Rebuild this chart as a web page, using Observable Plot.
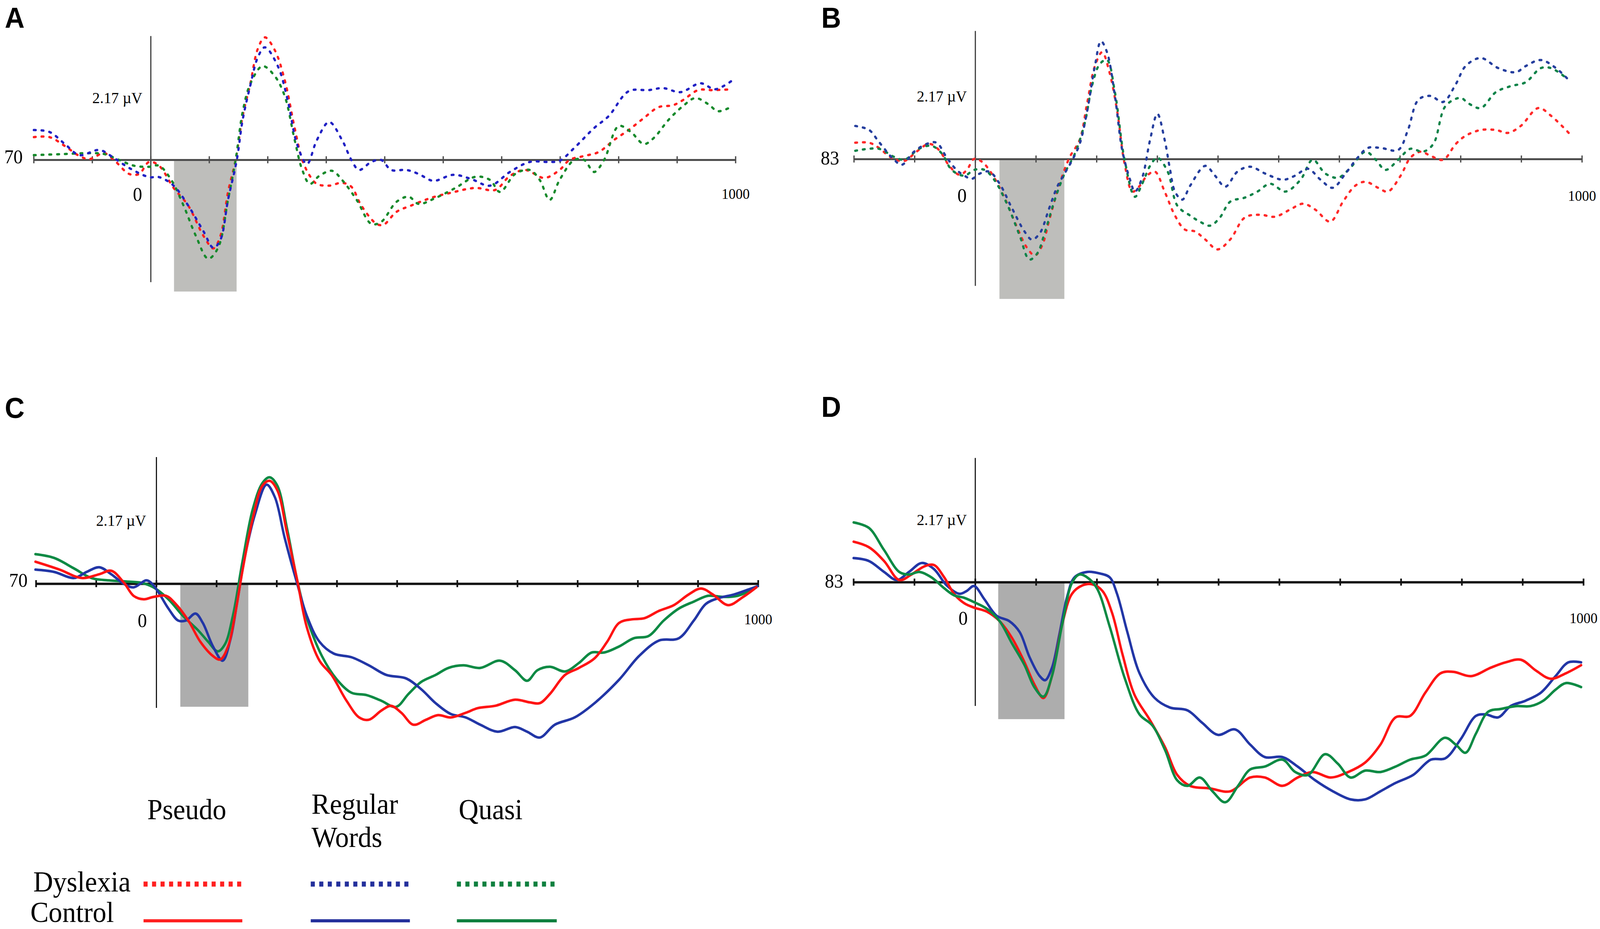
<!DOCTYPE html>
<html>
<head>
<meta charset="utf-8">
<script src="https://cdn.jsdelivr.net/npm/d3@7"></script>
<script src="https://cdn.jsdelivr.net/npm/@observablehq/plot@0.6"></script>
<style>
  html, body { margin: 0; padding: 0; background: #fff; overflow: hidden; }
  #fig { position: relative; width: 4325px; height: 2378px; overflow: hidden; background: #fff; transform-origin: 0 0; }
  .panel { position: absolute; }
  #overlay { position: absolute; left: 0; top: 0; }
</style>
</head>
<body>
<div id="fig"></div>
<script>
// ---------------- DATA ----------------
const panelLetters = ["A", "B", "C", "D"];
const channelLabels = {A: "70", B: "83", C: "70", D: "83"};
const scaleLabel = "2.17 µV";
const scaleValue = 2.17;
const timeTicks = [-200, -100, 0, 100, 200, 300, 400, 500, 600, 700, 800, 900, 1000];
const timeDomain = [-200, 1000];
const conditions = ["Pseudo", "Regular Words", "Quasi"];
const groups = ["Dyslexia", "Control"];
// analysis windows (ms)
const windowA = [40, 147];
const windowB = [40, 147];
const windowC = [40, 153];
const windowD = [38, 147];

// Panel A (Dyslexia, channel 70) — [ms, µV]
const A_pseudo = [[-200,0.8],[-173,0.8],[-147,0.49],[-122,0.14],[-105,0.03],[-80,0.24],[-63,0],[-37,-0.49],[-20,-0.49],[-3,-0.07],[14,-0.2],[39,-0.98],[64,-1.6],[90,-2.66],[107,-3.1],[119,-2.66],[132,-1.12],[145,0],[157,1.54],[170,2.66],[183,3.9],[195,4.3],[212,3.85],[229,2.8],[246,1.12],[259,0],[272,-0.56],[284,-0.84],[305,-0.9],[327,-0.8],[343,-0.94],[360,-1.6],[386,-2.24],[398,-2.27],[420,-1.82],[445,-1.6],[479,-1.33],[513,-1.15],[555,-0.98],[589,-1.05],[614,-0.56],[640,-0.35],[673,-0.63],[699,-0.35],[716,0],[741,0.14],[766,0.28],[792,0.7],[817,1.05],[843,1.47],[868,1.85],[893,1.92],[910,2.1],[936,2.45],[961,2.45],[995,2.48]];
const A_regular = [[-200,1.05],[-173,0.98],[-147,0.56],[-122,0.17],[-88,0.35],[-63,0.07],[-37,-0.28],[-3,-0.6],[14,-0.6],[39,-0.9],[64,-1.6],[90,-2.5],[107,-3.08],[119,-2.8],[132,-1.4],[147,0],[157,1.4],[170,2.6],[183,3.6],[195,3.95],[217,3.3],[234,2.1],[250,0.56],[267,-0.14],[284,0.7],[305,1.33],[327,0.7],[343,0],[356,-0.35],[377,-0.07],[394,0],[411,-0.35],[437,-0.35],[458,-0.49],[483,-0.73],[517,-0.52],[547,-0.66],[580,-0.9],[614,-0.42],[648,-0.07],[682,-0.07],[699,-0.03],[724,0.42],[758,1.12],[783,1.54],[817,2.41],[851,2.45],[876,2.52],[906,2.38],[940,2.69],[965,2.48],[995,2.8]];
const A_quasi = [[-200,0.17],[-147,0.21],[-105,0.24],[-80,0.21],[-54,0],[-29,-0.2],[-3,-0.24],[14,-0.2],[35,-0.7],[56,-1.6],[77,-2.66],[98,-3.46],[115,-3.08],[132,-1.4],[145,0],[157,1.68],[170,2.66],[191,3.29],[212,2.94],[229,2.24],[246,0.7],[259,-0.35],[272,-0.84],[288,-0.56],[310,-0.38],[327,-0.7],[352,-1.4],[377,-2.24],[394,-2.17],[420,-1.47],[441,-1.29],[458,-1.54],[487,-1.33],[521,-0.98],[555,-0.59],[580,-0.7],[597,-1.12],[623,-0.49],[648,-0.35],[665,-0.7],[682,-1.4],[699,-0.7],[724,0],[741,0],[758,-0.42],[775,0],[800,1.19],[821,0.98],[843,0.56],[860,0.77],[885,1.4],[910,1.89],[931,2.17],[953,1.96],[970,1.71],[995,1.89]];

// Panel B (Dyslexia, channel 83)
const B_pseudo = [[-198,0.57],[-175,0.57],[-159,0.39],[-138,0.05],[-117,-0.06],[-97,0.26],[-76,0.53],[-60,0.32],[-43,-0.23],[-26,-0.54],[-14,-0.37],[-2,0.01],[11,-0.09],[27,-0.5],[48,-1.33],[69,-2.37],[85,-3.06],[98,-3.33],[110,-2.99],[122,-2.09],[139,-0.85],[155,0.05],[172,0.67],[184,1.91],[197,3.22],[209,3.7],[221,3.01],[234,1.63],[246,-0.16],[259,-1.12],[271,-0.92],[283,-0.57],[296,-0.43],[312,-1.12],[329,-1.95],[345,-2.43],[362,-2.5],[379,-2.78],[399,-3.12],[420,-2.78],[444,-2.02],[469,-1.92],[494,-1.99],[519,-1.74],[540,-1.54],[560,-1.74],[585,-2.16],[606,-1.47],[626,-0.92],[643,-0.78],[664,-0.99],[680,-1.12],[701,-0.57],[717,0.05],[734,0.26],[750,0.12],[771,-0.02],[792,0.53],[808,0.81],[833,1.01],[858,1.01],[878,0.91],[899,1.15],[928,1.77],[949,1.5],[978,0.91]];
const B_regular = [[-198,1.15],[-175,1.01],[-159,0.6],[-134,-0.02],[-121,-0.19],[-101,0.26],[-80,0.53],[-64,0.57],[-47,0.05],[-31,-0.37],[-18,-0.57],[-6,-0.68],[7,-0.5],[23,-0.43],[40,-0.85],[60,-1.68],[81,-2.5],[93,-2.78],[106,-2.57],[122,-1.68],[135,-0.95],[147,-0.5],[160,-0.02],[172,0.53],[184,1.63],[197,3.22],[207,4.08],[217,3.7],[230,2.19],[242,0.32],[255,-0.71],[263,-1.12],[275,-0.64],[288,0.67],[300,1.57],[312,0.67],[321,-0.37],[329,-1.12],[341,-1.4],[354,-0.92],[379,-0.23],[395,-0.57],[412,-0.95],[432,-0.43],[453,-0.26],[478,-0.5],[507,-0.71],[527,-0.57],[548,-0.33],[569,-0.71],[589,-0.99],[610,-0.5],[630,0.05],[647,0.39],[668,0.39],[697,0.32],[713,1.01],[730,2.05],[750,2.19],[771,1.98],[792,2.6],[808,3.22],[833,3.5],[862,3.15],[891,3.01],[907,3.22],[932,3.43],[957,3.15],[978,2.74]];
const B_quasi = [[-198,0.29],[-159,0.36],[-134,0.08],[-117,-0.02],[-93,0.36],[-72,0.46],[-55,0.19],[-39,-0.37],[-18,-0.57],[-2,-0.37],[15,-0.37],[31,-0.71],[52,-1.54],[73,-2.64],[89,-3.47],[102,-3.26],[114,-2.57],[131,-1.4],[147,-0.5],[164,0.19],[180,1.22],[193,2.6],[205,3.29],[217,3.43],[230,2.32],[246,-0.02],[263,-1.3],[275,-0.85],[288,-0.23],[300,0.05],[317,-0.43],[333,-1.61],[354,-1.95],[370,-2.16],[387,-2.3],[403,-2.02],[420,-1.47],[444,-1.33],[465,-1.12],[486,-0.85],[511,-1.12],[536,-0.71],[556,-0.02],[577,-0.5],[598,-0.64],[618,-0.3],[643,0.26],[660,-0.02],[676,-0.37],[697,-0.02],[717,0.36],[738,0.26],[755,0.53],[775,1.84],[800,2.12],[812,1.94],[833,1.77],[858,2.32],[883,2.53],[907,2.66],[932,3.15],[949,3.15],[974,2.81]];

// Panel C (Control, channel 70)
const C_pseudo = [[-201,0.76],[-161,0.49],[-124,0.2],[-95,0.33],[-75,0.45],[-54,0.04],[-38,-0.41],[-21,-0.53],[-5,-0.45],[16,-0.41],[32,-0.69],[53,-1.26],[73,-1.99],[94,-2.48],[106,-2.6],[119,-2.15],[131,-1.02],[143,0.45],[160,2.24],[176,3.37],[188,3.54],[201,3.21],[217,1.75],[234,0.12],[250,-1.5],[271,-2.64],[291,-3.13],[316,-4.02],[337,-4.59],[353,-4.67],[374,-4.35],[390,-4.19],[407,-4.43],[427,-4.84],[448,-4.67],[468,-4.51],[489,-4.59],[514,-4.43],[534,-4.27],[563,-4.19],[596,-3.98],[620,-4.07],[637,-4.1],[654,-3.78],[679,-3.13],[702,-2.89],[728,-2.56],[749,-1.99],[769,-1.34],[790,-1.22],[811,-1.18],[835,-0.93],[860,-0.73],[884,-0.37],[905,-0.16],[925,-0.37],[950,-0.73],[975,-0.45],[997,-0.12]];
const C_regular = [[-201,0.49],[-170,0.41],[-137,0.2],[-116,0.41],[-95,0.57],[-75,0.33],[-54,0],[-38,-0.12],[-17,0.12],[-9,0.04],[3,-0.28],[20,-0.85],[36,-1.26],[49,-1.26],[65,-1.02],[77,-1.34],[94,-2.15],[110,-2.64],[123,-1.91],[135,-0.53],[147,0.93],[164,2.4],[183,3.41],[197,2.97],[213,1.59],[234,0],[250,-1.1],[271,-1.99],[295,-2.4],[324,-2.52],[353,-2.8],[382,-3.13],[415,-3.25],[440,-3.62],[464,-4.1],[489,-4.47],[514,-4.59],[538,-4.84],[567,-5.08],[596,-4.92],[616,-5.08],[637,-5.28],[662,-4.84],[695,-4.59],[728,-4.1],[769,-3.29],[802,-2.48],[835,-1.95],[868,-1.87],[893,-1.26],[913,-0.69],[934,-0.49],[959,-0.37],[983,-0.2],[999,-0.08]];
const C_quasi = [[-201,1.02],[-170,0.89],[-137,0.53],[-108,0.2],[-79,0.12],[-50,0.08],[-26,0.04],[-5,-0.12],[20,-0.53],[44,-1.1],[69,-1.59],[86,-1.99],[102,-2.32],[114,-2.07],[127,-1.1],[143,0.77],[160,2.56],[176,3.46],[188,3.66],[201,3.37],[217,1.91],[234,0.12],[250,-1.18],[275,-2.48],[300,-3.29],[324,-3.74],[349,-3.82],[374,-4.02],[398,-4.23],[419,-3.78],[440,-3.37],[464,-3.13],[485,-2.89],[510,-2.8],[538,-2.89],[571,-2.64],[596,-2.97],[616,-3.33],[633,-2.97],[654,-2.85],[679,-3.01],[702,-2.72],[723,-2.36],[744,-2.36],[769,-2.15],[793,-1.87],[818,-1.79],[843,-1.26],[868,-0.85],[893,-0.61],[917,-0.41],[942,-0.45],[966,-0.41],[997,-0.12]];

// Panel D (Control, channel 83)
const D_pseudo = [[-200,1.41],[-175,1.22],[-150,0.74],[-125,0.08],[-105,0.27],[-84,0.55],[-68,0.6],[-51,0.17],[-35,-0.4],[-18,-0.73],[-2,-0.88],[19,-1.02],[40,-1.35],[60,-1.92],[81,-2.78],[97,-3.54],[112,-4.02],[126,-3.26],[143,-1.45],[159,-0.4],[176,-0.11],[192,-0.07],[209,-0.3],[225,-1.07],[242,-2.5],[262,-3.92],[287,-4.78],[312,-5.73],[332,-6.69],[353,-7.07],[386,-7.16],[419,-7.26],[452,-6.78],[476,-6.78],[505,-7.07],[530,-6.78],[555,-6.59],[584,-6.78],[613,-6.59],[641,-6.26],[666,-5.64],[691,-4.69],[715,-4.64],[740,-3.83],[765,-3.16],[786,-3.11],[815,-3.26],[847,-2.97],[872,-2.78],[897,-2.69],[922,-3.07],[946,-3.35],[971,-3.16],[996,-2.88]];
const D_regular = [[-200,0.84],[-175,0.74],[-150,0.36],[-129,0.08],[-109,0.36],[-88,0.67],[-68,0.46],[-47,-0.11],[-26,-0.4],[-14,-0.3],[-2,-0.13],[15,-0.59],[35,-1.16],[56,-1.35],[73,-1.73],[89,-2.59],[106,-3.26],[115,-3.4],[126,-2.97],[138,-1.83],[151,-0.5],[163,0.17],[184,0.36],[204,0.31],[221,0.17],[233,-0.4],[250,-1.73],[270,-3.16],[295,-4.02],[320,-4.35],[349,-4.45],[373,-4.88],[399,-5.3],[427,-5.11],[452,-5.64],[476,-6.07],[505,-6.07],[530,-6.4],[559,-6.88],[588,-7.26],[617,-7.54],[641,-7.54],[666,-7.26],[691,-6.97],[720,-6.69],[749,-6.16],[773,-6.11],[798,-5.45],[823,-4.64],[839,-4.59],[860,-4.69],[880,-4.3],[905,-4.11],[930,-3.83],[954,-3.26],[975,-2.78],[996,-2.78]];
const D_quasi = [[-200,2.08],[-175,1.89],[-150,1.12],[-125,0.36],[-109,0.27],[-92,0.36],[-72,0.17],[-51,-0.21],[-35,-0.45],[-18,-0.54],[-2,-0.69],[19,-0.92],[40,-1.35],[60,-2.11],[81,-2.88],[97,-3.64],[112,-3.97],[126,-3.26],[143,-1.45],[159,-0.02],[171,0.27],[184,0.17],[200,-0.21],[221,-1.54],[246,-3.35],[270,-4.59],[291,-4.97],[312,-5.83],[332,-6.88],[349,-7.07],[369,-6.78],[390,-7.26],[411,-7.64],[432,-7.07],[452,-6.5],[476,-6.4],[505,-6.16],[526,-6.59],[547,-6.69],[575,-5.97],[596,-6.3],[617,-6.78],[641,-6.54],[666,-6.59],[691,-6.4],[715,-6.16],[740,-6.02],[772,-5.4],[790,-5.64],[806,-5.92],[823,-5.26],[843,-4.5],[864,-4.4],[889,-4.3],[913,-4.3],[934,-4.11],[954,-3.73],[971,-3.5],[996,-3.64]];

// ---------------- LAYOUT / STYLE (design space 4325 x 2378) ----------------
const DESIGN_W = 4325, DESIGN_H = 2378;
const SERIF = '"Liberation Serif", "DejaVu Serif", serif';
const panels = [
  { id: "A", left: 0, top: 0, width: 2150, height: 800, xRange: [91, 1988], base: 409, px: 73,
    dashed: true, window: windowA, vTop: 4.34, vBot: -4.29, rectBottom: -4.62,
    axisColor: "#4d4d4d", axisW: 5, tickW: 3.5, vColor: "#333", rectFill: "#bebebb",
    chDx: -30, chDy: -8, zeroDx: -36, zeroDy: 88, scaleDx: -23, endDy: 87,
    series: [{d: A_pseudo, c: "#ff2020"}, {d: A_quasi, c: "#178a2c"}, {d: A_regular, c: "#2121c4"}] },
  { id: "B", left: 2200, top: 0, width: 2125, height: 800, xRange: [108, 2076], base: 407, px: 74,
    dashed: true, window: windowB, vTop: 4.43, vBot: -4.39, rectBottom: -4.84,
    axisColor: "#4d4d4d", axisW: 5, tickW: 3.5, vColor: "#333", rectFill: "#bebebb",
    chDx: -40, chDy: -3, zeroDx: -36, zeroDy: 93, scaleDx: -23, endDy: 94,
    series: [{d: B_pseudo, c: "#ff2a2a"}, {d: B_quasi, c: "#0f8349"}, {d: B_regular, c: "#263f9e"}] },
  { id: "C", left: 0, top: 1000, width: 2150, height: 900, xRange: [97, 2049], base: 494, px: 74.5,
    dashed: false, window: windowC, vTop: 4.35, vBot: -4.27, rectBottom: -4.23,
    axisColor: "#111", axisW: 6, tickW: 4.5, vColor: "#111", rectFill: "#adadad",
    chDx: -23, chDy: -9, zeroDx: -38, zeroDy: 94, scaleDx: -28, endDy: 91,
    series: [{d: C_quasi, c: "#0e8a44"}, {d: C_regular, c: "#2236a6"}, {d: C_pseudo, c: "#ff1414"}] },
  { id: "D", left: 2200, top: 1000, width: 2125, height: 1100, xRange: [107, 2080], base: 490, px: 73.7,
    dashed: false, window: windowD, vTop: 4.31, vBot: -4.3, rectBottom: -4.76,
    axisColor: "#111", axisW: 6, tickW: 4.5, vColor: "#111", rectFill: "#adadad",
    chDx: -28, chDy: -3, zeroDx: -33, zeroDy: 92, scaleDx: -23, endDy: 92,
    series: [{d: D_regular, c: "#2236a6"}, {d: D_pseudo, c: "#ff1414"}, {d: D_quasi, c: "#0e8a44"}] }
];

const fig = document.getElementById("fig");

for (const p of panels) {
  const yTop = p.base / p.px;
  const yBot = -(p.height - p.base) / p.px;
  const tickHalf = 9 / p.px;
  const lines = p.series.map(s => Plot.line(s.d, {
    x: d => d[0], y: d => d[1], curve: "catmull-rom",
    stroke: s.c, strokeWidth: p.dashed ? 6 : 6.5,
    strokeDasharray: p.dashed ? "5 16" : null,
    strokeLinecap: "round", strokeLinejoin: "round"
  }));
  const chart = Plot.plot({
    width: p.width, height: p.height,
    marginTop: 0, marginRight: 0, marginBottom: 0, marginLeft: 0,
    x: {domain: timeDomain, range: p.xRange, axis: null},
    y: {domain: [yBot, yTop], range: [p.height, 0], axis: null},
    style: {fontFamily: SERIF, background: "transparent", color: "#000", maxWidth: "none"},
    marks: [
      Plot.rect([p.window], {x1: d => d[0], x2: d => d[1], y1: 0, y2: p.rectBottom, fill: p.rectFill}),
      Plot.ruleX([0], {y1: p.vBot, y2: p.vTop, stroke: p.vColor, strokeWidth: 3}),
      Plot.ruleY([0], {x1: timeDomain[0], x2: timeDomain[1], stroke: p.axisColor, strokeWidth: p.axisW}),
      Plot.ruleX(timeTicks, {y1: -tickHalf, y2: tickHalf, stroke: p.axisColor, strokeWidth: p.tickW}),
      ...lines,
      Plot.text([channelLabels[p.id]], {x: timeDomain[0], y: 0, textAnchor: "end", dx: p.chDx, dy: p.chDy, fontSize: 50}),
      Plot.text(["0"], {x: 0, y: 0, textAnchor: "middle", dx: p.zeroDx, dy: p.zeroDy, fontSize: 50}),
      Plot.text([scaleLabel], {x: 0, y: scaleValue, textAnchor: "end", dx: p.scaleDx, fontSize: 41}),
      Plot.text([String(timeDomain[1])], {x: timeDomain[1], y: 0, textAnchor: "middle", dy: p.endDy, fontSize: 38})
    ]
  });
  chart.classList.add("panel");
  chart.style.left = p.left + "px";
  chart.style.top = p.top + "px";
  fig.appendChild(chart);
}

// ---------------- LETTERS + LEGEND ----------------
const svg = d3.select(fig).append("svg")
  .attr("id", "overlay").attr("width", DESIGN_W).attr("height", DESIGN_H);

const letterPos = {A: [13, 71], B: [2220, 71], C: [13, 1070], D: [2220, 1067]};
for (const L of panelLetters) {
  svg.append("text").attr("x", letterPos[L][0]).attr("y", letterPos[L][1])
    .attr("font-family", '"Liberation Sans", Arial, sans-serif').attr("font-weight", "bold")
    .attr("font-size", 74).text(L);
}

const legendColors = {"Pseudo": "#ff2020", "Regular Words": "#24309c", "Quasi": "#0f803f"};
const legendCols = {"Pseudo": [388, 655], "Regular Words": [840, 1108], "Quasi": [1235, 1505]};
const legendHead = {"Pseudo": [[398, 2097, "Pseudo"]], "Regular Words": [[842, 2083, "Regular"], [842, 2168, "Words"]], "Quasi": [[1240, 2097, "Quasi"]]};
const rowY = {"Dyslexia": 2263, "Control": 2357};
const rowLabel = {"Dyslexia": [90, 2282], "Control": [82, 2360]};

for (const c of conditions) {
  for (const [x, y, t] of legendHead[c]) {
    svg.append("text").attr("x", x).attr("y", y).attr("font-family", SERIF)
      .attr("font-size", 74).text(t);
  }
}
for (const g of groups) {
  svg.append("text").attr("x", rowLabel[g][0]).attr("y", rowLabel[g][1])
    .attr("font-family", SERIF).attr("font-size", 74).text(g);
  for (const c of conditions) {
    const [x1, x2] = legendCols[c];
    const ln = svg.append("line").attr("x1", x1).attr("x2", x2)
      .attr("y1", rowY[g]).attr("y2", rowY[g]).attr("stroke", legendColors[c]);
    if (g === "Dyslexia") ln.attr("stroke-width", 13).attr("stroke-dasharray", "11 12");
    else ln.attr("stroke-width", 8);
  }
}

// fit the 4325x2378 design into the actual viewport
function fit() {
  const sx = (window.innerWidth || DESIGN_W) / DESIGN_W;
  const sy = (window.innerHeight || DESIGN_H) / DESIGN_H;
  fig.style.transform = `scale(${sx}, ${sy})`;
}
fit();
window.addEventListener("resize", fit);
</script>
</body>
</html>
